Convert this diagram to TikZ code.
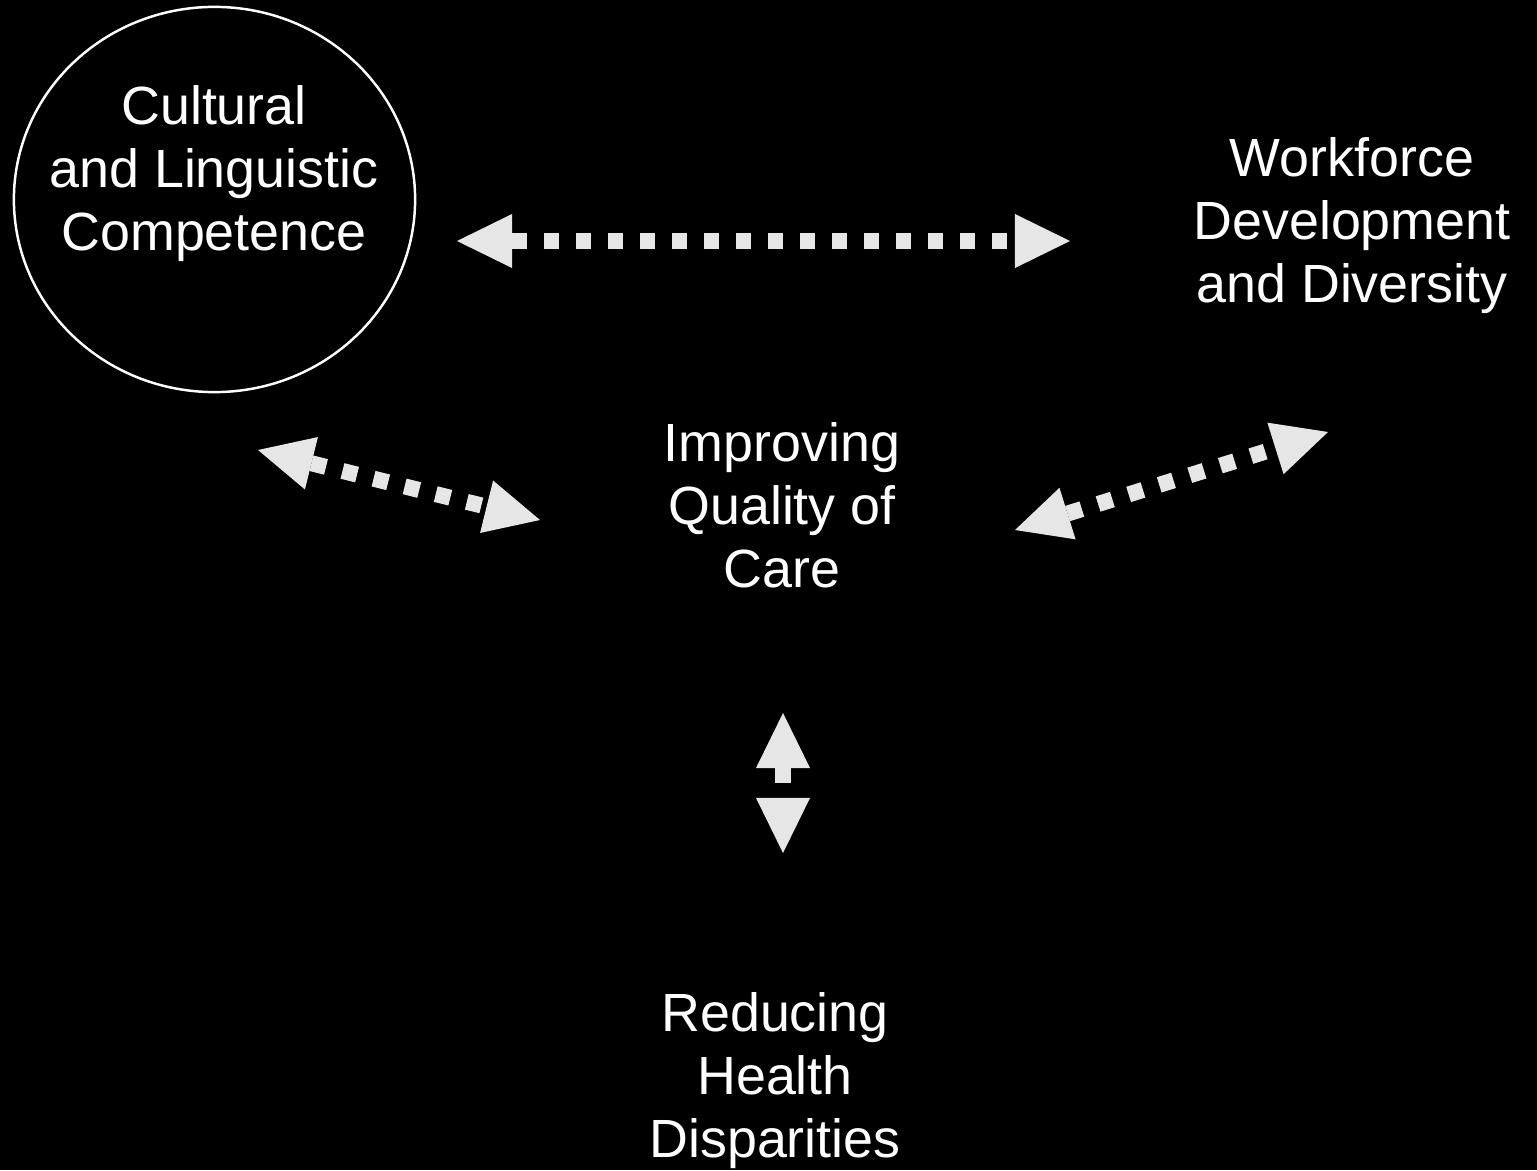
\documentclass[tikz,border=0pt]{standalone}
\usepackage{fontspec}
\setmainfont{Liberation Sans}
\usetikzlibrary{arrows.meta}
\definecolor{col_000000}{RGB}{0,0,0}
\definecolor{col_ffffff}{RGB}{255,255,255}
\definecolor{col_e6e6e6}{RGB}{230,230,230}
\tikzset{
  topic/.style={text=col_ffffff, align=center, inner sep=0pt, anchor=base,
    font=\fontsize{15.3pt}{17.9pt}\selectfont},
  link/.style={draw=col_e6e6e6, line width=0.16cm, dash pattern=on 0.15cm off 0.17cm,
    {Triangle[length=0.55cm,width=0.54cm,line width=0pt,fill=col_e6e6e6]}-{Triangle[length=0.55cm,width=0.54cm,line width=0pt,fill=col_e6e6e6]}}
}

\begin{document}
\begin{tikzpicture}[x=0.01cm,y=-0.01cm]
\fill[col_000000] (0,0) rectangle (1537,1170);     %% background
\useasboundingbox (0,0) rectangle (1537,1170);
\draw[col_ffffff, line width=0.7pt] (214.5,199.5) ellipse [x radius=2.005cm, y radius=1.925cm];
%% topics (base = last line)
\node[topic] (clc) at (214,250) {Cultural\\and Linguistic\\Competence};
\node[topic] (wdd) at (1352,302) {Workforce\\Development\\and Diversity};
\node[topic] (iqc) at (782,587) {Improving\\Quality of\\Care};
\node[topic] (rhd) at (775,1157) {Reducing\\Health\\Disparities};
%% arrow ends
\coordinate (clc_e) at (457,241);
\coordinate (wdd_w) at (1070,241);
\coordinate (clc_s) at (258,450);
\coordinate (iqc_w) at (540,520);
\coordinate (iqc_e) at (1015,530);
\coordinate (wdd_s) at (1328,432);
\coordinate (iqc_s) at (783,713);
\coordinate (rhd_n) at (783,853);
\draw[link] (clc_e) -- (wdd_w);
\draw[link] (clc_s) -- (iqc_w);
\draw[link] (iqc_e) -- (wdd_s);
\draw[link] (iqc_s) -- (rhd_n);
\end{tikzpicture}
\end{document}
